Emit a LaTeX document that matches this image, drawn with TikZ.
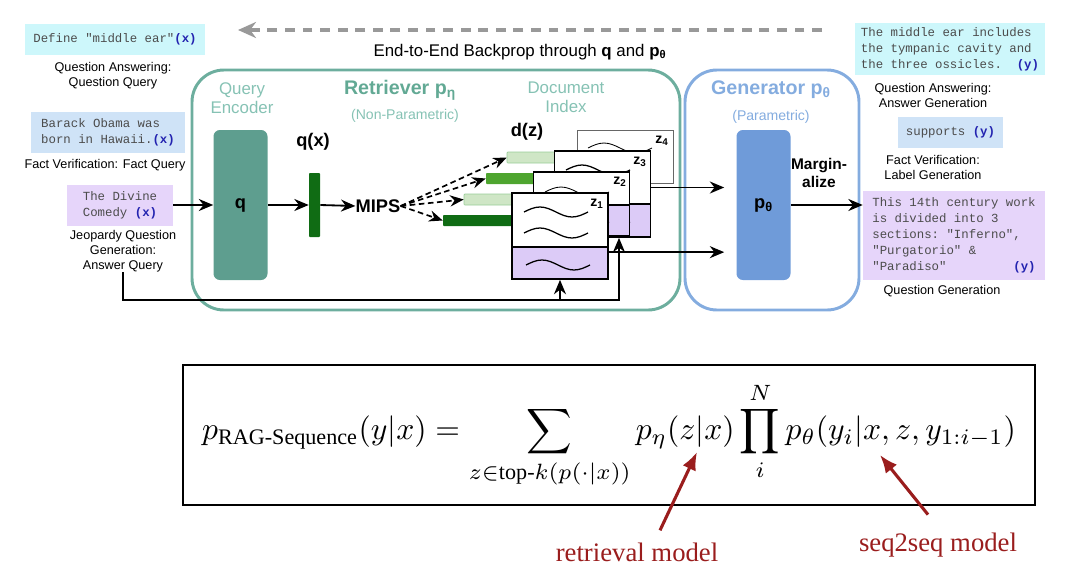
\documentclass[tikz,border=0pt]{standalone}
\usepackage{amsmath}
\usepackage{graphicx}
\usepackage{fontspec}
\setmainfont{Liberation Serif}
\setsansfont{Liberation Sans}
\setmonofont{Liberation Mono}
\usepackage{xcolor}
\usepackage{tikz}
\usetikzlibrary{arrows.meta, positioning, calc}

\definecolor{tealline}{HTML}{6DAE9E}
\definecolor{tealtext}{HTML}{62A994}
\definecolor{teallight}{HTML}{86C2B4}
\definecolor{tealfill}{HTML}{5E9E8F}
\definecolor{blueline}{HTML}{84ACDF}
\definecolor{bluefill}{HTML}{6F9BD9}
\definecolor{qacyan}{HTML}{CDF7FB}
\definecolor{fvblue}{HTML}{CFE3F7}
\definecolor{jeopurple}{HTML}{E6D5FA}
\definecolor{docpurple}{HTML}{DCCBF7}
\definecolor{xyblue}{HTML}{2323B0}
\definecolor{darkgreen}{HTML}{106C14}
\definecolor{midgreen}{HTML}{4EA52F}
\definecolor{palegreen}{HTML}{CFE6C6}
\definecolor{notered}{HTML}{9A1D1D}

\begin{document}
\begin{tikzpicture}[
  x=0.25mm, y=-0.25mm,
  arrow/.style={-{Stealth[length=3.6mm, width=3mm]}, line width=1.3pt},
  dasharrow/.style={-{Stealth[length=3.4mm, width=2.8mm]}, line width=1.2pt, dash pattern=on 4pt off 2.5pt},
  backprop/.style={-{Stealth[length=4.5mm, width=4mm]}, line width=2.2pt, gray!80, dash pattern=on 7pt off 5.5pt},
  qtext/.style={rectangle, align=left, font=\ttfamily\fontsize{8.8}{11.4}\selectfont, text=black!70, inner sep=0pt},
  taskcap/.style={align=center, font=\sffamily\fontsize{9}{10.7}\selectfont, inner sep=0pt},
  parthead/.style={align=center, font=\sffamily\fontsize{12}{13.5}\selectfont, inner sep=0pt},
  modtitle/.style={font=\sffamily\bfseries\fontsize{14}{16}\selectfont, inner sep=0pt},
  boldlabel/.style={align=center, font=\sffamily\bfseries\fontsize{13}{15}\selectfont, inner sep=0pt},
  module/.style={rectangle, rounded corners=8mm, line width=2.1pt, minimum height=60mm},
  block/.style={rectangle, rounded corners=1.6mm, minimum width=13.5mm, minimum height=37.5mm, font=\sffamily\bfseries\fontsize{13}{15}\selectfont},
  vecbar/.style={rectangle, rounded corners=0.6pt, minimum height=2.75mm, inner sep=0pt},
  doctop/.style={rectangle, draw, line width=1.2pt, fill=white, minimum width=24mm, inner sep=0pt},
  docbot/.style={rectangle, draw, line width=1.2pt, fill=docpurple, minimum width=24mm, inner sep=0pt},
  wave/.style={line width=0.9pt},
  zlabel/.style={font=\sffamily\bfseries\fontsize{10}{12}\selectfont, inner sep=0pt},
  rednote/.style={font=\fontsize{19}{22}\selectfont, text=notered, inner sep=0pt},
  notearrow/.style={-{Latex[length=4.5mm, width=3.6mm]}, line width=2.2pt, notered}
]
\useasboundingbox (0,0) rectangle (1065,585);

% backprop arrow
\coordinate (bpFrom) at (822,30);
\coordinate (bpTo) at (238,30);
\draw[backprop] (bpFrom) -- (bpTo);
\node[font=\sffamily\fontsize{12}{14}\selectfont] (bpLabel) at (520,52) {End-to-End Backprop through \textbf{q} and \textbf{p\textsubscript{θ}}};

% inputs
\node[qtext, fill=qacyan, minimum width=45mm, minimum height=7.75mm] (qaIn) at (115,39.5) {Define "middle ear"\textbf{\textcolor{xyblue}{(x)}}};
\node[taskcap] (qaInCap) at (113,76) {Question Answering:\\Question Query};
\node[qtext, fill=fvblue, minimum width=38.5mm, minimum height=10.25mm] (fvIn) at (108,132.5) {Barack Obama was\\born in Hawaii.\textbf{\textcolor{xyblue}{(x)}}};
\node[taskcap] (fvInCap) at (105,165) {Fact Verification: Fact Query};
\node[qtext, fill=jeopurple, minimum width=26.5mm, minimum height=10.25mm] (jeoIn) at (120,205) {The Divine\\Comedy \textbf{\textcolor{xyblue}{(x)}}};
\node[taskcap] (jeoInCap) at (123,251) {Jeopardy Question\\Generation:\\Answer Query};

% retriever and generator
\node[module, draw=tealline, minimum width=122mm] (retriever) at (436,190) {};
\node[module, draw=blueline, minimum width=43.5mm] (generator) at (772,190) {};
\node[parthead, text=teallight] (encHead) at (242,98) {Query\\Encoder};
\node[modtitle, text=tealtext] (retHead) at (400,90) {Retriever p\textsubscript{η}};
\node[taskcap, font=\sffamily\fontsize{10}{12}\selectfont, text=teallight] (retSub) at (405,116) {(Non-Parametric)};
\node[parthead, text=teallight] (idxHead) at (566,97) {Document\\Index};
\node[modtitle, text=blueline] (genHead) at (771,90) {Generator p\textsubscript{θ}};
\node[taskcap, font=\sffamily\fontsize{10}{12}\selectfont, text=blueline] (genSub) at (771,117) {(Parametric)};

\node[block, fill=tealfill] (qenc) at (240.5,205) {q};
\node[block, fill=bluefill] (pgen) at (763.5,205) {p\textsubscript{θ}};
\node[boldlabel] (qxLabel) at (313,142) {q(x)};
\node[vecbar, fill=darkgreen, minimum width=2.75mm, minimum height=16mm] (qvec) at (314.5,205) {};
\node[boldlabel] (mips) at (378,206) {MIPS};
\node[boldlabel] (dzLabel) at (527,132) {d(z)};

\node[vecbar, fill=palegreen, draw=green!35!gray!60, minimum width=18.25mm] (bar4) at (543.5,157.5) {};
\node[vecbar, fill=midgreen, minimum width=18.5mm] (bar3) at (523,178.5) {};
\node[vecbar, fill=palegreen, draw=green!35!gray!60, minimum width=19mm] (bar2) at (502,199.5) {};
\node[vecbar, fill=darkgreen, minimum width=19.25mm] (bar1) at (481.5,220.5) {};

% documents, back to front
\node[doctop, draw=black!60, line width=0.6pt, minimum height=13.25mm] (z4top) at (625,156.5) {};
\draw[line width=0.6pt] (588,148) sin ++(16,-5) cos ++(16,5) sin ++(16,5) cos ++(16,-5);
\node[zlabel] (z4) at (662,141) {z\textsubscript{4}};

\node[doctop, minimum height=13.25mm] (z3top) at (602.5,177.5) {};
\node[docbot, minimum height=8.25mm] (z3bot) at (602.5,220.5) {};
\draw[wave] (566,170) sin ++(16,-5) cos ++(16,5) sin ++(16,5) cos ++(16,-5);
\draw[wave] (566,222) sin ++(16,-5) cos ++(16,5) sin ++(16,5) cos ++(16,-5);
\node[zlabel] (z3) at (640,162) {z\textsubscript{3}};

\node[doctop, minimum height=8.25mm] (z2top) at (581.5,188.5) {};
\node[docbot, minimum height=7.75mm] (z2bot) at (581.5,220.5) {};
\draw[line width=0.6pt] (545,192) sin ++(16,-5) cos ++(16,5) sin ++(16,5) cos ++(16,-5);
\draw[wave] (545,222) sin ++(16,-5) cos ++(16,5) sin ++(16,5) cos ++(16,-5);
\node[zlabel] (z2) at (620,182) {z\textsubscript{2}};

\node[doctop, minimum height=13.5mm] (z1top) at (560,220) {};
\node[docbot, minimum height=8mm] (z1bot) at (560,263) {};
\draw[wave] (524,212) sin ++(16,-5) cos ++(16,5) sin ++(16,5) cos ++(16,-5);
\draw[wave] (524,233) sin ++(16,-5) cos ++(16,5) sin ++(16,5) cos ++(16,-5);
\draw[wave] (526,265) sin ++(16,-5) cos ++(16,5) sin ++(16,5) cos ++(16,-5);
\node[zlabel] (z1) at (597,204) {z\textsubscript{1}};

% outputs
\node[qtext, fill=qacyan, minimum width=47.5mm, minimum height=13mm] (qaOut) at (950,49) {The middle ear includes\\the tympanic cavity and\\the three ossicles.~~\textbf{\textcolor{xyblue}{(y)}}};
\node[taskcap] (qaOutCap) at (933,95) {Question Answering:\\Answer Generation};
\node[qtext, fill=fvblue, minimum width=26.25mm, minimum height=7.75mm] (fvOut) at (950.5,132.5) {supports \textbf{\textcolor{xyblue}{(y)}}};
\node[taskcap] (fvOutCap) at (933,167) {Fact Verification:\\Label Generation};
\node[qtext, fill=jeopurple, minimum width=45.5mm, minimum height=22.25mm] (qgOut) at (954,235.5) {This 14th century work\\is divided into 3\\sections: "Inferno",\\"Purgatorio" \&\\"Paradiso"~~~~~~~~~\textbf{\textcolor{xyblue}{(y)}}};
\node[taskcap] (qgOutCap) at (942,291) {Question Generation};
\node[boldlabel, font=\sffamily\bfseries\fontsize{11}{13}\selectfont] (margLabel) at (819,173) {Margin-\\alize};

% connectors
\draw[arrow] (jeoIn.east) -- (qenc.west);
\draw[arrow] (qenc.east) -- (qvec.west);
\draw[arrow] (qvec.east) -- (mips.west);
\draw[dasharrow] (mips.east) -- (bar4.west);
\draw[dasharrow] (mips.east) -- (bar3.west);
\draw[dasharrow] (mips.east) -- (bar2.west);
\draw[dasharrow] (mips.east) -- (bar1.west);

\coordinate (docA) at ($(z3top.east)+(0,10)$);
\coordinate (docB) at ($(z1bot.north east)+(0,6)$);
\draw[arrow, shorten >=3mm] (docA) -- (docA -| pgen.west);
\draw[arrow, shorten >=3mm] (docB) -- (docB -| pgen.west);
\draw[arrow] (pgen.east) -- (pgen.east -| qgOut.west);

\coordinate (fbLeft) at (123,300);
\coordinate (fbRight) at (619,300);
\coordinate (fbMid) at (560,300);
\draw[arrow] (jeoInCap.south) -- (fbLeft) -- (fbRight) -- (fbRight |- z3bot.south);
\draw[arrow] (fbMid) -- (z1bot.south);

% formula
\node[draw, line width=1.2pt, minimum width=213mm, minimum height=35mm] (formula) at (609,435) {\scalebox{2.25}{$\displaystyle p_{\text{RAG-Sequence}}(y|x) = \sum_{z\in\text{top-}k(p(\cdot|x))} p_\eta(z|x)\prod_{i}^{N} p_\theta(y_i|x,z,y_{1:i-1})$}};
\node[rednote] (retNote) at (637,552) {retrieval model};
\node[rednote] (seqNote) at (938,545) {seq2seq model};
\coordinate (etaTip) at (697,452);
\coordinate (seqTip) at (880,455);
\draw[notearrow] ([shift={(23,-12)}]retNote.north) -- (etaTip);
\draw[notearrow] ([shift={(-10,-18)}]seqNote.north) -- (seqTip);
\end{tikzpicture}
\end{document}
